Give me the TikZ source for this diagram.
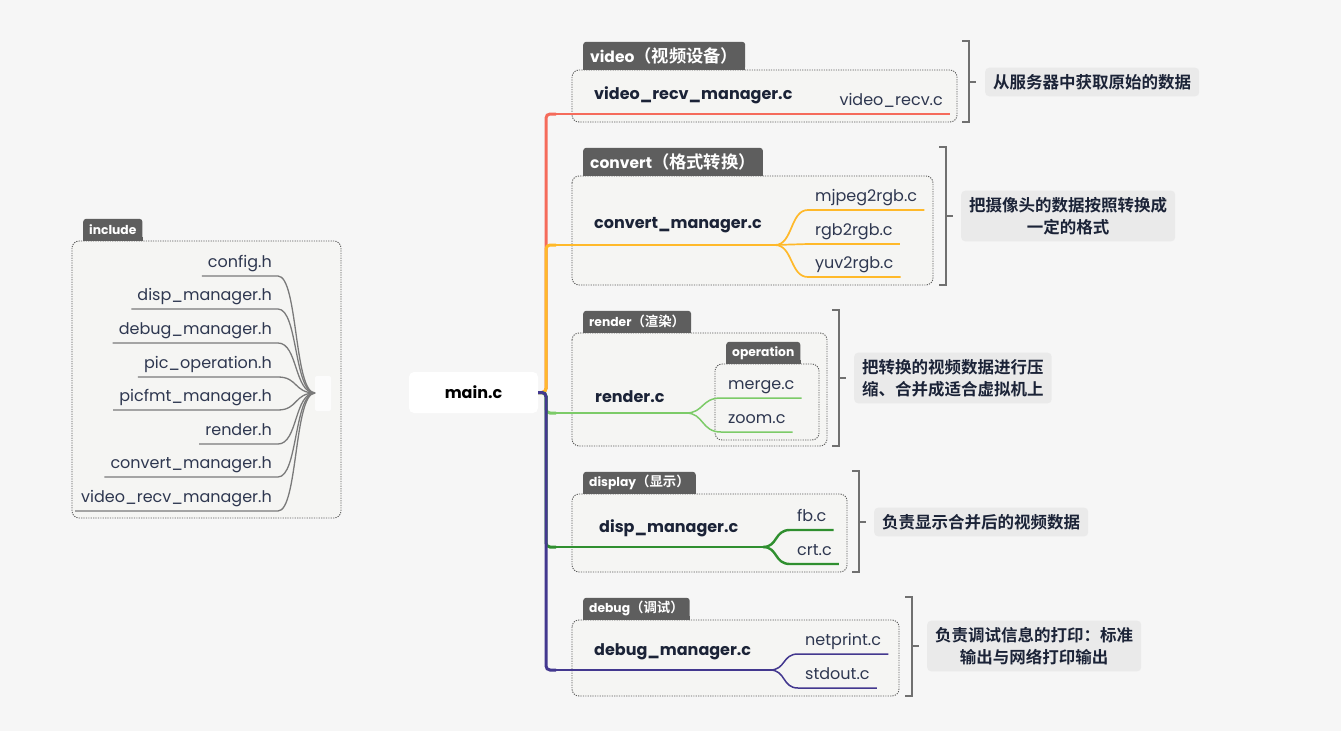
\documentclass[tikz,border=0pt]{standalone}
\usepackage{fontspec}
\setmainfont{Poppins}
\newfontfamily\cjk{Noto Sans CJK SC}[BoldFont={Noto Sans CJK SC Bold}]
\newcommand\tabzhbig[1]{{\cjk\bfseries\fontsize{17.3}{18}\selectfont #1}}
\newcommand\tabzhsmall[1]{{\cjk\bfseries\fontsize{13.4}{14}\selectfont #1}}
\usetikzlibrary{calc}
\definecolor{bgc}{HTML}{F6F6F6}
\definecolor{boxc}{HTML}{F5F5F3}
\definecolor{tabc}{HTML}{5E5E5E}
\definecolor{ink}{HTML}{1B2337}
\definecolor{inkl}{HTML}{2E3750}
\definecolor{dotc}{HTML}{5A5A5A}
\definecolor{sumc}{HTML}{EAEAEA}
\definecolor{brc}{HTML}{707070}
\definecolor{cred}{HTML}{F56B5B}
\definecolor{corg}{HTML}{FFB92A}
\definecolor{clgr}{HTML}{7CCB68}
\definecolor{cgrn}{HTML}{2F8F2F}
\definecolor{cpur}{HTML}{43388F}
\definecolor{incc}{HTML}{7A7A7A}
\definecolor{hubc}{HTML}{FCFCFC}
\begin{document}
\begin{tikzpicture}[x=1pt,y=-1pt,
  tabbig/.style={fill=tabc,text=white,rounded corners=3pt,anchor=south west,inner xsep=7pt,inner ysep=0pt,minimum height=28pt,font=\fontsize{15.5}{18}\selectfont\bfseries},
  tabsm/.style={fill=tabc,text=white,rounded corners=3pt,anchor=south west,inner xsep=6pt,inner ysep=0pt,minimum height=22pt,font=\fontsize{12.3}{14}\selectfont\bfseries},
  file/.style={text=inkl,font=\fontsize{16}{19}\selectfont,text height=12pt,text depth=4pt,inner xsep=7pt,inner ysep=4pt},
  mod/.style={text=ink,font=\fontsize{16}{19}\selectfont\bfseries,inner sep=0pt,anchor=west},
  summ/.style={fill=sumc,rounded corners=4pt,text=ink,font=\fontsize{16.5}{22}\selectfont\cjk\bfseries,align=center,inner xsep=8pt,inner ysep=6.5pt,anchor=west},
  dbox/.style={draw=dotc,dash pattern=on 1.2pt off 1.2pt,line width=0.9pt,rounded corners=7pt,fill=boxc},
  brk/.style={draw=brc,line width=1.4pt},
  trunkline/.style={line width=3pt,rounded corners=4pt},
  brline/.style={line width=1.7pt},
  incl/.style={draw=incc,line width=1.3pt},
  mainbox/.style={fill=white,rounded corners=5pt,minimum width=129pt,minimum height=41pt,font=\fontsize{16}{19}\selectfont\bfseries,text=black}
]
\fill[bgc] (0,0) rectangle (1341,731);
\useasboundingbox (0,0) rectangle (1341,731);

% ---------------- include ----------------
\draw[dbox] (72,241) rectangle (341,518);
\node[tabsm] (tinc) at (83,241) {include};
\fill[tabc] (tinc.south west) rectangle ([yshift=4pt]tinc.south east);
\fill[hubc,rounded corners=2pt] (315,376) rectangle (331,411);
\coordinate (hub) at (315,393);
\foreach \n/\yy/\t in {1/276/config.h,2/309/disp\_manager.h,3/343/debug\_manager.h,4/377/pic\_operation.h,5/410/picfmt\_manager.h,6/444/render.h,7/477/convert\_manager.h,8/511/video\_recv\_manager.h}{
  \node[file,anchor=south east,inner xsep=6pt] (h\n) at (278,\yy) {\t};
  \draw[incl] (h\n.south west) -- (h\n.south east) .. controls (298,\yy) and (294,393) .. (hub);
}

% ---------------- main ----------------
\node[mainbox] (main) at (473.5,392.5) {main.c};

% ---------------- video ----------------
\draw[dbox] (572,70) rectangle (957,122);
\node[tabbig] (tv) at (583,70) {video\tabzhbig{（视频设备）}};
\fill[tabc] (tv.south west) rectangle ([yshift=4pt]tv.south east);
\node[mod] (vm) at (594,95) {video\_recv\_manager.c};
\node[file,anchor=south east] (vr) at (950,114) {video\_recv.c};
\coordinate (jv) at (556,114);

% ---------------- convert ----------------
\draw[dbox] (572,176) rectangle (933,285);
\node[tabbig] (tc) at (583,176) {convert\tabzhbig{（格式转换）}};
\fill[tabc] (tc.south west) rectangle ([yshift=4pt]tc.south east);
\node[mod] (cm) at (594,225) {convert\_manager.c};
\coordinate (jc) at (556,245);
\coordinate (cf) at (775,245);
\node[file,anchor=south west] (c1) at (808,210) {mjpeg2rgb.c};
\node[file,anchor=south west] (c2) at (808,244) {rgb2rgb.c};
\node[file,anchor=south west] (c3) at (808,277) {yuv2rgb.c};

% ---------------- render ----------------
\draw[dbox] (572,333) rectangle (827,446);
\node[tabsm] (tr) at (583,333) {render\tabzhsmall{（渲染）}};
\fill[tabc] (tr.south west) rectangle ([yshift=4pt]tr.south east);
\node[mod] (rm) at (595,397) {render.c};
\draw[dbox] (715,364) rectangle (819,440);
\node[tabsm] (to) at (726,364) {operation};
\fill[tabc] (to.south west) rectangle ([yshift=4pt]to.south east);
\coordinate (jr) at (556,413);
\coordinate (rf) at (686,413);
\node[file,anchor=south west] (r1) at (721,398) {merge.c};
\node[file,anchor=south west] (r2) at (721,432) {zoom.c};

% ---------------- display ----------------
\draw[dbox] (572,494) rectangle (847,572);
\node[tabsm] (td) at (583,494) {display\tabzhsmall{（显示）}};
\fill[tabc] (td.south west) rectangle ([yshift=4pt]td.south east);
\node[mod] (dm) at (599,528) {disp\_manager.c};
\coordinate (jd) at (556,547);
\coordinate (df) at (763,547);
\node[file,anchor=south west] (d1) at (790,530) {fb.c};
\node[file,anchor=south west] (d2) at (790,564) {crt.c};

% ---------------- debug ----------------
\draw[dbox] (572,620) rectangle (899,696);
\node[tabsm] (tg) at (583,620) {debug\tabzhsmall{（调试）}};
\fill[tabc] (tg.south west) rectangle ([yshift=4pt]tg.south east);
\node[mod] (gm) at (594,652) {debug\_manager.c};
\coordinate (jg) at (556,670);
\coordinate (gf) at (770,670);
\node[file,anchor=south west] (g1) at (798,654) {netprint.c};
\node[file,anchor=south west] (g2) at (798,688) {stdout.c};

% ---------------- connectors ----------------
\draw[trunkline,cred] (main.east) -- (546,392.5) |- (jv);
\draw[brline,cred,line width=1.5pt] (jv) -- (vr.south east);

\draw[trunkline,corg] (main.east) -- (546,392.5) |- (jc);
\draw[brline,corg] (jc) -- (cf);
\draw[brline,corg] (cf) .. controls (793,245) and (790,210) .. (c1.south west) -- (c1.south east);
\draw[brline,corg] (cf) -- (c2.south west) -- (c2.south east);
\draw[brline,corg] (cf) .. controls (793,245) and (790,277) .. (c3.south west) -- (c3.south east);

\draw[trunkline,clgr] (main.east) -- (546,392.5) |- (jr);
\draw[brline,clgr,line width=1.5pt] (jr) -- (rf);
\draw[brline,clgr,line width=1.5pt] (rf) .. controls (704,413) and (701,398) .. (r1.south west) -- (r1.south east);
\draw[brline,clgr,line width=1.5pt] (rf) .. controls (704,413) and (701,432) .. (r2.south west) -- (r2.south east);

\draw[trunkline,cgrn] (main.east) -- (546,392.5) |- (jd);
\draw[brline,cgrn,line width=2.4pt] (jd) -- (df);
\draw[brline,cgrn,line width=2.4pt] (df) .. controls (778,547) and (774,530) .. (d1.south west) -- (d1.south east);
\draw[brline,cgrn,line width=2.4pt] (df) .. controls (778,547) and (774,564) .. (d2.south west) -- (d2.south east);

\draw[trunkline,cpur] (main.east) -- (546,392.5) |- (jg);
\draw[brline,cpur,line width=1.5pt] (jg) -- (gf);
\draw[brline,cpur,line width=1.5pt] (gf) .. controls (786,670) and (782,654) .. (g1.south west) -- (g1.south east);
\draw[brline,cpur,line width=1.5pt] (gf) .. controls (786,670) and (782,688) .. (g2.south west) -- (g2.south east);

% ---------------- summaries ----------------
\node[summ] (sv) at (985,82) {从服务器中获取原始的数据};
\node[summ] (sc) at (961,216) {把摄像头的数据按照转换成\\一定的格式};
\node[summ] (sr) at (854,378) {把转换的视频数据进行压\\缩、合并成适合虚拟机上};
\node[summ] (sd) at (874,522) {负责显示合并后的视频数据};
\node[summ] (sg) at (927,646) {负责调试信息的打印：标准\\输出与网络打印输出};

\coordinate (bv) at (969,82);
\coordinate (bc) at (946,216);
\coordinate (br) at (839,378);
\coordinate (bd) at (859,522);
\coordinate (bg) at (912,646);
\draw[brk] (962,41) -- (969,41) -- (969,122) -- (962,122);
\draw[brk] (bv) -- ++(7,0);
\draw[brk] (939,147) -- (946,147) -- (946,285) -- (939,285);
\draw[brk] (bc) -- ++(7,0);
\draw[brk] (832,310) -- (839,310) -- (839,446) -- (832,446);
\draw[brk] (br) -- ++(7,0);
\draw[brk] (852,471) -- (859,471) -- (859,572) -- (852,572);
\draw[brk] (bd) -- ++(7,0);
\draw[brk] (905,597) -- (912,597) -- (912,696) -- (905,696);
\draw[brk] (bg) -- ++(7,0);
\end{tikzpicture}
\end{document}
